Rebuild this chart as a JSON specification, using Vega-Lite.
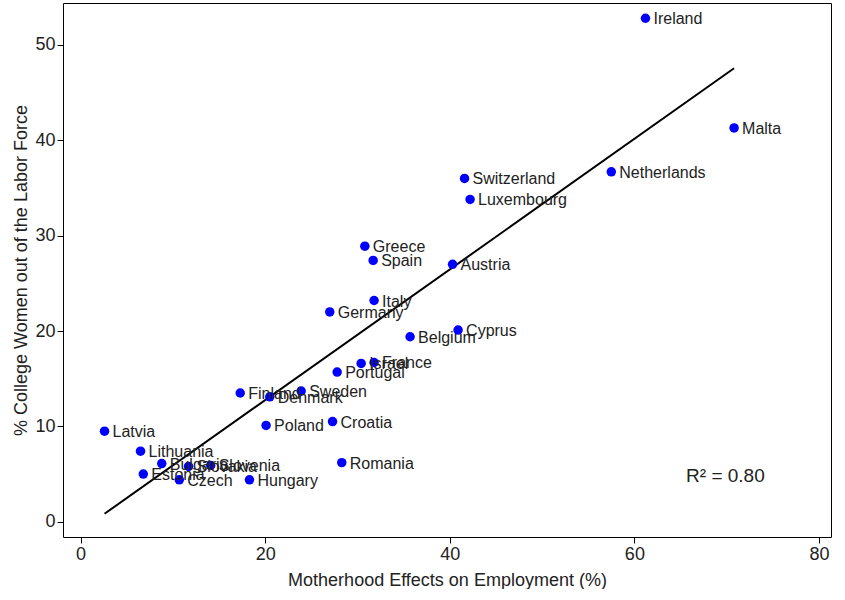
{
  "$schema": "https://vega.github.io/schema/vega-lite/v6.json",
  "width": 768,
  "height": 534,
  "padding": {"left": 12, "top": 3, "right": 4, "bottom": 0},
  "background": "white",
  "config": {
    "font": "Liberation Sans",
    "view": {"stroke": "black", "strokeWidth": 1},
    "axis": {"grid": false, "domain": false, "tickColor": "black", "tickSize": 6, "labelFontSize": 18, "titleFontSize": 18, "labelColor": "#222", "titleColor": "#222", "titleFontWeight": "normal"}
  },
  "data": {
    "values": [
      {"country": "Ireland", "x": 61.2, "y": 52.8},
      {"country": "Malta", "x": 70.8, "y": 41.3},
      {"country": "Netherlands", "x": 57.5, "y": 36.7},
      {"country": "Switzerland", "x": 41.6, "y": 36.0},
      {"country": "Luxembourg", "x": 42.2, "y": 33.8},
      {"country": "Greece", "x": 30.8, "y": 28.9},
      {"country": "Spain", "x": 31.7, "y": 27.4},
      {"country": "Austria", "x": 40.3, "y": 27.0},
      {"country": "Italy", "x": 31.8, "y": 23.2},
      {"country": "Germany", "x": 27.0, "y": 22.0},
      {"country": "Cyprus", "x": 40.9, "y": 20.1},
      {"country": "Belgium", "x": 35.7, "y": 19.4},
      {"country": "Israel", "x": 30.4, "y": 16.6},
      {"country": "France", "x": 31.8, "y": 16.7},
      {"country": "Portugal", "x": 27.8, "y": 15.7},
      {"country": "Sweden", "x": 23.9, "y": 13.7},
      {"country": "Finland", "x": 17.3, "y": 13.5},
      {"country": "Denmark", "x": 20.5, "y": 13.1},
      {"country": "Latvia", "x": 2.6, "y": 9.5},
      {"country": "Poland", "x": 20.1, "y": 10.1},
      {"country": "Croatia", "x": 27.3, "y": 10.5},
      {"country": "Romania", "x": 28.3, "y": 6.2},
      {"country": "Lithuania", "x": 6.5, "y": 7.4},
      {"country": "Bulgaria", "x": 8.8, "y": 6.1},
      {"country": "Estonia", "x": 6.8, "y": 5.0},
      {"country": "Slovakia", "x": 11.7, "y": 5.8},
      {"country": "Slovenia", "x": 14.1, "y": 5.9},
      {"country": "Czech", "x": 10.7, "y": 4.4},
      {"country": "Hungary", "x": 18.3, "y": 4.4}
    ]
  },
  "encoding": {
    "x": {"field": "x", "type": "quantitative", "title": "Motherhood Effects on Employment (%)", "scale": {"domain": [-1.9, 81.3], "nice": false, "zero": false}, "axis": {"values": [0, 20, 40, 60, 80], "titlePadding": 8}},
    "y": {"field": "y", "type": "quantitative", "title": "% College Women out of the Labor Force", "scale": {"domain": [-1.6, 54.4], "nice": false, "zero": false}, "axis": {"values": [0, 10, 20, 30, 40, 50]}}
  },
  "layer": [
    {
      "transform": [{"regression": "y", "on": "x"}],
      "mark": {"type": "line", "color": "black", "strokeWidth": 2}
    },
    {"mark": {"type": "circle", "color": "#0000ff", "opacity": 1, "size": 90}},
    {
      "mark": {"type": "text", "align": "left", "dx": 8, "dy": 1, "fontSize": 16, "color": "#222"},
      "encoding": {"text": {"field": "country"}}
    },
    {
      "data": {"values": [{"x": 65.6, "y": 4.8, "label": "R² = 0.80"}]},
      "mark": {"type": "text", "fontSize": 19, "color": "#222", "align": "left"},
      "encoding": {"text": {"field": "label"}}
    }
  ]
}
